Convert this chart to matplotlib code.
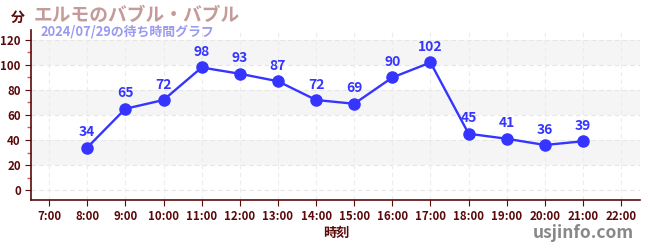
import matplotlib
matplotlib.use("Agg")
import matplotlib.pyplot as plt
from matplotlib.ticker import MultipleLocator, FuncFormatter

plt.rcParams["font.family"] = ["Noto Sans CJK JP", "DejaVu Sans"]

hours = [8, 9, 10, 11, 12, 13, 14, 15, 16, 17, 18, 19, 20, 21]
waits = [34, 65, 72, 98, 93, 87, 72, 69, 90, 102, 45, 41, 36, 39]
tick_hours = list(range(7, 23))
y_ticks = [0, 20, 40, 60, 80, 100, 120]

AXIS = "#5a0a0a"
LINE = "#3535ff"

fig = plt.figure(figsize=(6.5, 2.5), dpi=100)
ax = fig.add_axes([0.048, 0.2, 0.937, 0.68])
ax.set_xlim(6.53, 22.5)
ax.set_ylim(-8, 128)

# alternating bands
for lo in (20, 60, 100):
    ax.axhspan(lo, lo + 20, color="#f5f5f5", zorder=0, lw=0)
for y in y_ticks:
    ax.axhline(y, color="#e6e6e6", lw=0.8, ls=(0, (4, 3)), zorder=1)
for h in tick_hours:
    ax.axvline(h, color="#ececec", lw=0.8, ls=(0, (4, 3)), zorder=1)

ax.plot(hours, waits, color=LINE, lw=1.7, marker="o", ms=8, zorder=3)
for h, w in zip(hours, waits):
    ax.annotate(str(w), (h, w), xytext=(0, 6), textcoords="offset points",
                ha="center", va="bottom", fontsize=10, fontweight="bold", color=LINE)

ax.set_xticks(tick_hours)
ax.xaxis.set_major_formatter(FuncFormatter(lambda v, p: f"{int(v)}:00"))
ax.set_yticks(y_ticks)
ax.yaxis.set_minor_locator(MultipleLocator(10))
ax.tick_params(axis="both", which="major", colors=AXIS, labelsize=8.3, length=4, width=0.8)
ax.tick_params(axis="y", which="minor", colors="#e05050", length=3, width=1)
for lab in ax.get_xticklabels() + ax.get_yticklabels():
    lab.set_fontweight("bold")
    lab.set_color(AXIS)

for s in ("top", "right"):
    ax.spines[s].set_visible(False)
for s in ("left", "bottom"):
    ax.spines[s].set_color(AXIS)
    ax.spines[s].set_linewidth(1.2)

fig.text(0.028, 0.928, "分", fontsize=10, fontweight="bold", color=AXIS, ha="center", va="center")
fig.text(0.052, 0.94, "エルモのバブル・バブル", fontsize=13.5, fontweight="bold", color="#c49a9a", va="center")
fig.text(0.062, 0.872, "2024/07/29の待ち時間グラフ", fontsize=9.3, fontweight="bold", color="#9a9af0", va="center")
fig.text(0.518, 0.07, "時刻", fontsize=9.5, fontweight="bold", color=AXIS, ha="center", va="center")
fig.text(0.975, 0.07, "usjinfo.com", fontsize=12.5, fontweight="bold", color="#888888", ha="right", va="center")

fig.savefig("out.png", dpi=100, facecolor="white")
